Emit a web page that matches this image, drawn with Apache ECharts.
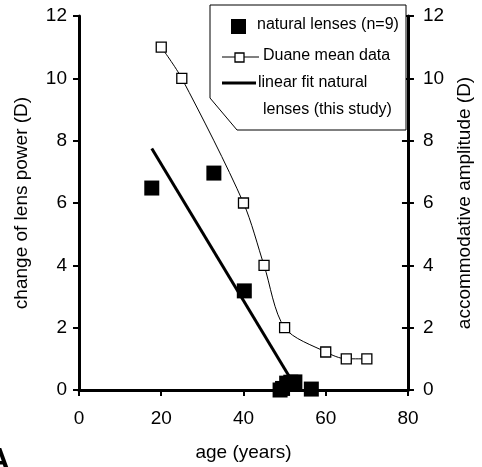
<!DOCTYPE html>
<html>
<head>
<meta charset="utf-8">
<script src="https://cdn.jsdelivr.net/npm/echarts@6/dist/echarts.min.js"></script>
<style>html,body{margin:0;padding:0;background:#fff}#c{width:482px;height:467px}</style>
</head>
<body>
<div id="c"></div>
<script>
// Data
var naturalAge = [17.7, 32.8, 40.2, 48.9, 49.5, 50.5, 51.5, 52.5, 56.5];
var naturalPower = [6.48, 6.96, 3.18, 0.0, 0.05, 0.22, 0.25, 0.26, 0.03];
var duaneAge = [20, 25, 40, 45, 50, 60, 65, 70];
var duaneAmp = [11, 10, 6, 4, 2, 1.22, 1.0, 1.0];
var fitAge = [17.7, 51.5];
var fitPower = [7.75, 0.35];
var xTicks = [0, 20, 40, 60, 80];
var yTicks = [0, 2, 4, 6, 8, 10, 12];

var FONT = '"Liberation Sans", Arial, sans-serif';
function zip(a, b) { return a.map(function (v, i) { return [v, b[i]]; }); }

var chart = echarts.init(document.getElementById('c'), null, {renderer: 'canvas'});
var axisLabelStyle = {color: '#000', fontFamily: FONT, fontSize: 19};
chart.setOption({
  animation: false,
  backgroundColor: '#fff',
  grid: {left: 79, right: 69, top: 16, bottom: 77, containLabel: false},
  xAxis: {
    type: 'value', min: xTicks[0], max: xTicks[xTicks.length - 1], interval: 20,
    name: 'age (years)', nameLocation: 'middle', nameGap: 53,
    nameTextStyle: {color: '#000', fontFamily: FONT, fontSize: 19},
    axisLine: {show: true, lineStyle: {color: '#000', width: 3}},
    axisTick: {show: true, length: 6, lineStyle: {color: '#000', width: 2}},
    axisLabel: Object.assign({margin: 19}, axisLabelStyle),
    splitLine: {show: false}
  },
  yAxis: [{
    type: 'value', min: yTicks[0], max: yTicks[yTicks.length - 1], interval: 2, position: 'left',
    name: 'change of lens power (D)', nameLocation: 'middle', nameGap: 48,
    nameTextStyle: {color: '#000', fontFamily: FONT, fontSize: 19},
    axisLine: {show: true, lineStyle: {color: '#000', width: 3}},
    axisTick: {show: true, length: 6, lineStyle: {color: '#000', width: 2}},
    axisLabel: Object.assign({margin: 12}, axisLabelStyle),
    splitLine: {show: false}
  }, {
    type: 'value', min: yTicks[0], max: yTicks[yTicks.length - 1], interval: 2, position: 'right',
    name: 'accommodative amplitude (D)', nameLocation: 'middle', nameGap: 42,
    nameTextStyle: {color: '#000', fontFamily: FONT, fontSize: 19},
    axisLine: {show: true, lineStyle: {color: '#000', width: 3}},
    axisTick: {show: true, length: 6, lineStyle: {color: '#000', width: 2}},
    axisLabel: Object.assign({margin: 15}, axisLabelStyle),
    splitLine: {show: false}
  }, {
    type: 'value', min: yTicks[0], max: yTicks[yTicks.length - 1], interval: 2, position: 'right',
    axisLine: {show: false},
    axisTick: {show: true, inside: true, length: 6, lineStyle: {color: '#000', width: 2}},
    axisLabel: {show: false},
    splitLine: {show: false}
  }],
  series: [{
    name: 'linear fit natural lenses (this study)', type: 'line', yAxisIndex: 0,
    data: zip(fitAge, fitPower), symbol: 'none',
    lineStyle: {color: '#000', width: 3}, z: 2
  }, {
    name: 'Duane mean data', type: 'line', yAxisIndex: 1,
    data: zip(duaneAge, duaneAmp), smooth: 0.3,
    symbol: 'rect', symbolSize: 10,
    lineStyle: {color: '#000', width: 1},
    itemStyle: {color: '#fff', borderColor: '#000', borderWidth: 1.3}, z: 3
  }, {
    name: 'natural lenses (n=9)', type: 'scatter', yAxisIndex: 0,
    data: zip(naturalAge, naturalPower),
    symbol: 'rect', symbolSize: 15,
    itemStyle: {color: '#000', opacity: 1}, z: 4
  }],
  graphic: [
    {type: 'polygon', shape: {points: [[210, 5], [406, 5], [406, 130], [237, 130], [210, 98]]},
      style: {fill: '#fff', stroke: '#000', lineWidth: 1}, z: 10},
    {type: 'rect', shape: {x: 231, y: 19, width: 15, height: 15}, style: {fill: '#000'}, z: 11},
    {type: 'text', left: 257, top: 17, style: {text: 'natural lenses (n=9)', fill: '#000', font: '16px ' + FONT}, z: 11},
    {type: 'line', shape: {x1: 222, y1: 57, x2: 259, y2: 57}, style: {stroke: '#000', lineWidth: 1}, z: 11},
    {type: 'rect', shape: {x: 235, y: 53, width: 9, height: 9}, style: {fill: '#fff', stroke: '#000', lineWidth: 1.3}, z: 12},
    {type: 'text', left: 263, top: 48, style: {text: 'Duane mean data', fill: '#000', font: '16px ' + FONT}, z: 11},
    {type: 'line', shape: {x1: 222, y1: 83, x2: 256, y2: 83}, style: {stroke: '#000', lineWidth: 3}, z: 11},
    {type: 'text', left: 258, top: 75, style: {text: 'linear fit natural', fill: '#000', font: '16px ' + FONT}, z: 11},
    {type: 'text', left: 263, top: 102, style: {text: 'lenses (this study)', fill: '#000', font: '16px ' + FONT}, z: 11},
    {type: 'text', left: -13, top: 445, style: {text: 'A', fill: '#000', font: 'bold 32px ' + FONT}, z: 11}
  ]
});
</script>
</body>
</html>
